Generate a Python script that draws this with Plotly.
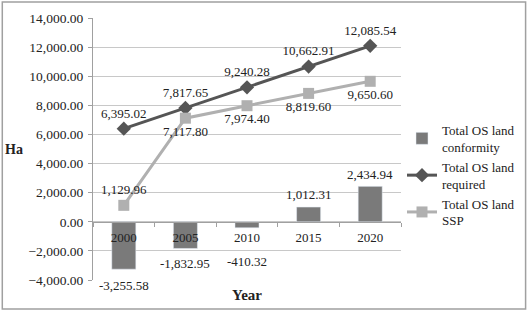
import plotly.graph_objects as go

years = ["2000", "2005", "2010", "2015", "2020"]
conformity = [-3255.58, -1832.95, -410.32, 1012.31, 2434.94]
required = [6395.02, 7817.65, 9240.28, 10662.91, 12085.54]
ssp = [1129.96, 7117.80, 7974.40, 8819.60, 9650.60]
y_ticks = [-4000, -2000, 0, 2000, 4000, 6000, 8000, 10000, 12000, 14000]

# label offsets (pixels) for bar data labels, as placed in the reference
bar_label_shift = [-16, -15, -34, 13, 12]

font = "Liberation Serif, Times New Roman, serif"

def fmt(v):
    return f"{v:,.2f}"

fig = go.Figure()
fig.add_trace(go.Bar(
    x=years, y=conformity, name="Total OS land<br>conformity",
    marker=dict(color="#7a7a7a"), width=0.39,
))
fig.add_trace(go.Scatter(
    x=years, y=required, name="Total OS land<br>required",
    mode="lines+markers+text",
    line=dict(color="#555555", width=3),
    marker=dict(symbol="diamond", size=11, color="#555555"),
    text=[fmt(v) for v in required], textposition="top center",
    textfont=dict(size=13, color="#222"), cliponaxis=False,
))
fig.add_trace(go.Scatter(
    x=years, y=ssp, name="Total OS land<br>SSP",
    mode="lines+markers+text",
    line=dict(color="#b0b0b0", width=3),
    marker=dict(symbol="square", size=11, color="#b0b0b0"),
    text=[fmt(v) for v in ssp],
    textposition=["top center", "bottom center", "bottom center", "bottom center", "bottom center"],
    textfont=dict(size=13, color="#222"), cliponaxis=False,
))

annotations = [
    dict(text="<b>Ha</b>", xref="paper", yref="paper", x=-0.255, y=0.5,
         xanchor="center", yanchor="middle", showarrow=False,
         font=dict(size=14, family=font, color="#222")),
    dict(text="<b>Year</b>", xref="paper", yref="paper", x=0.5, y=-0.02,
         xanchor="center", yanchor="top", showarrow=False,
         font=dict(size=15, family=font, color="#222")),
]
for i, (v, s) in enumerate(zip(conformity, bar_label_shift)):
    annotations.append(dict(text=fmt(v), x=i, y=v, xref="x", yref="y",
                            yshift=s, showarrow=False,
                            xanchor="center", yanchor="middle",
                            font=dict(size=13, family=font, color="#222")))

fig.update_layout(
    width=531, height=311,
    margin=dict(l=93, r=129, t=18, b=31),
    paper_bgcolor="white", plot_bgcolor="white",
    font=dict(family=font, size=13, color="#222"),
    showlegend=True,
    legend=dict(x=1.0, xanchor="left", y=0.63, yanchor="top",
                font=dict(family=font, size=13, color="#222"),
                bgcolor="rgba(0,0,0,0)"),
    xaxis=dict(type="category", range=[-0.5, 4.5], anchor="free", position=4/18,
               showline=True, linecolor="#a0a0a0", linewidth=1,
               ticks="outside", ticklen=4, tickcolor="#a0a0a0", tickson="boundaries",
               showgrid=False, tickfont=dict(size=13, color="#222"), ticklabelstandoff=4),
    yaxis=dict(range=[-4000, 14000], tickvals=y_ticks, tickformat=",.2f",
               showgrid=True, gridcolor="#c8c8c8", gridwidth=1,
               showline=True, linecolor="#a0a0a0", ticks="outside", ticklen=4,
               tickcolor="#a0a0a0", zeroline=False,
               tickfont=dict(size=13.5, color="#222"), ticklabelstandoff=2),
    annotations=annotations,
    shapes=[
        dict(type="rect", xref="paper", yref="paper",
             x0=-91/309, x1=(527-93)/309, y0=-(309-280)/262, y1=(280-2)/262,
             line=dict(color="#a0a0a0", width=1.5), fillcolor="rgba(0,0,0,0)", layer="below"),
    ],
)

fig.write_html("out.html")
